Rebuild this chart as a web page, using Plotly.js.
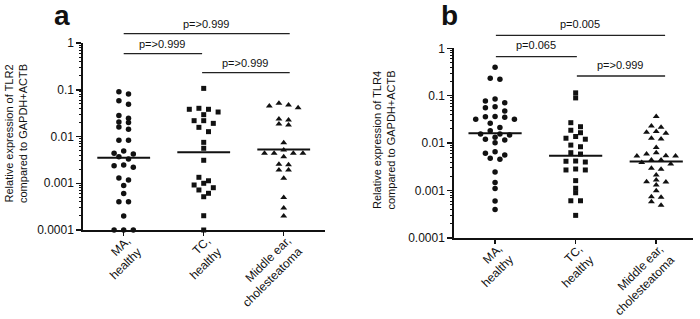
<!DOCTYPE html>
<html><head><meta charset="utf-8">
<script src="https://cdn.plot.ly/plotly-3.0.1.min.js"></script>
<style>html,body{margin:0;padding:0;background:#fff}#chart{width:700px;height:319px}</style>
</head><body><div id="chart"></div>
<script>
// ---------- data ----------
const categories = ["MA,<br>healthy", "TC,<br>healthy", "Middle ear,<br>cholesteatoma"];

const tlr2_MA = [0.091, 0.081, 0.058, 0.049, 0.028, 0.0245, 0.0204, 0.020, 0.016, 0.0143,
  0.0083, 0.0083, 0.0049, 0.0044, 0.0042, 0.0037, 0.0033, 0.00245, 0.00237, 0.0022,
  0.0013, 0.00117, 0.00089, 0.0006, 0.0004, 0.0004, 0.0002, 0.0001, 0.0001, 0.0001];
const tlr2_TC = [0.107, 0.0401, 0.0382, 0.0382, 0.0334, 0.0293, 0.0218, 0.0218, 0.0191, 0.0157,
  0.0127, 0.0075, 0.0056, 0.0031, 0.00134, 0.00113, 0.000998, 0.000918, 0.000803, 0.000718,
  0.00061, 0.000515, 0.000202, 0.0001];
const tlr2_ME = [0.0513, 0.0472, 0.0449, 0.0413, 0.0237, 0.0225, 0.0185, 0.0176, 0.00737, 0.00515,
  0.00437, 0.00437, 0.00437, 0.00437, 0.0037, 0.00254, 0.00249, 0.00192, 0.00192, 0.00128,
  0.000496, 0.000296, 0.000199];

const tlr4_MA = [0.397, 0.233, 0.222, 0.0853, 0.0774, 0.0713, 0.0587, 0.056, 0.0476, 0.0365,
  0.0361, 0.0351, 0.0318, 0.0318, 0.0262, 0.0214, 0.0183, 0.0156, 0.0156, 0.0149,
  0.0133, 0.0121, 0.0117, 0.0102, 0.0066, 0.0061, 0.0056, 0.0048, 0.00457, 0.00247,
  0.00148, 0.00111, 0.0006, 0.0004];
const tlr4_TC = [0.115, 0.090, 0.027, 0.0222, 0.0187, 0.0166, 0.0138, 0.0127, 0.0121, 0.0091,
  0.0084, 0.0063, 0.0059, 0.0042, 0.00415, 0.0040, 0.00285, 0.00272, 0.00272, 0.00162,
  0.00112, 0.0009, 0.00061, 0.00061, 0.0003];
const tlr4_ME = [0.0365, 0.0230, 0.0216, 0.0175, 0.0169, 0.0161, 0.0127, 0.0122, 0.0081, 0.0063,
  0.0059, 0.00544, 0.00536, 0.00536, 0.00442, 0.00442, 0.0039, 0.00364, 0.00295, 0.00281,
  0.00213, 0.00167, 0.00154, 0.00152, 0.00131, 0.000995, 0.00074, 0.00072, 0.00058, 0.00049];

const tlr2_medians = [0.0035, 0.0046, 0.0053];
const tlr4_medians = [0.0161, 0.0054, 0.0041];

// p-values: [MA vs Middle ear, MA vs TC, TC vs Middle ear]
const tlr2_pvalues = ["p=>0.999", "p=>0.999", "p=>0.999"];
const tlr4_pvalues = ["p=0.005", "p=0.065", "p=>0.999"];

const yTickVals = [0.0001, 0.001, 0.01, 0.1, 1];
const yTickText = ["0.0001", "0.001", "0.01", "0.1", "1"];

const titleA = "Relative expression of TLR2<br>compared to GAPDH+ACTB";
const titleB = "Relative expression of TLR4<br>compared to GAPDH+ACTB";

// ---------- layout helpers ----------
const W = 700, H = 319;
const px = v => v / W;
const py = v => 1 - v / H;
const FONT = '"Liberation Sans", Arial, Helvetica, sans-serif';
const INK = '#111111';
const STEP = 0.12;

function slotOrder(n) {
  const s = [];
  for (let k = 0; k < n; k++) s.push(k - (n - 1) / 2);
  return s.sort((a, b) => Math.abs(a) - Math.abs(b) || a - b);
}
function swarm(values, center, pxPerDecade) {
  const idx = values.map((v, i) => i).sort((a, b) => values[b] - values[a]);
  const xs = new Array(values.length);
  const rows = []; let cur = []; let anchor = null;
  idx.forEach(i => {
    const y = -Math.log10(values[i]) * pxPerDecade;
    if (anchor === null || y - anchor > 4.5) { if (cur.length) rows.push(cur); cur = [i]; anchor = y; }
    else cur.push(i);
  });
  if (cur.length) rows.push(cur);
  rows.forEach(r => { const o = slotOrder(r.length); r.forEach((i, k) => xs[i] = center + o[k] * STEP); });
  return xs;
}

const symbols = ['circle', 'square', 'triangle-up'];
const sizes = [5.5, 5, 6];

const domA = {x: [px(83.3), px(325)], y: [py(230), py(43)]};
const domB = {x: [px(454.3), px(693.3)], y: [py(238), py(48.3)]};
const ppdA = (domA.y[1] - domA.y[0]) * H / 4;
const ppdB = (domB.y[1] - domB.y[0]) * H / 4;

const traces = [];
function addPanel(groups, medians, xa, ya, ppd) {
  groups.forEach((vals, g) => {
    traces.push({
      type: 'scatter', mode: 'markers', xaxis: xa, yaxis: ya, cliponaxis: false,
      x: swarm(vals, g, ppd), y: vals,
      marker: {symbol: symbols[g], size: sizes[g], color: '#111', line: {width: 0}},
      hoverinfo: 'skip'
    });
    traces.push({
      type: 'scatter', mode: 'lines', xaxis: xa, yaxis: ya, cliponaxis: false,
      x: [g - 0.33, g + 0.33], y: [medians[g], medians[g]],
      line: {color: '#111', width: 2}, hoverinfo: 'skip'
    });
  });
}
addPanel([tlr2_MA, tlr2_TC, tlr2_ME], tlr2_medians, 'x', 'y', ppdA);
addPanel([tlr4_MA, tlr4_TC, tlr4_ME], tlr4_medians, 'x2', 'y2', ppdB);

const minorVals = [];
for (let e = -4; e < 0; e++) for (let m = 2; m <= 9; m++) minorVals.push(m * Math.pow(10, e));

function xAxis(dom, range, anchor) {
  return {domain: dom, range: range, anchor: anchor, tickmode: 'array', tickvals: [0, 1, 2], ticktext: categories,
    showticklabels: false, ticks: 'outside', ticklen: 4, tickwidth: 1.5, tickcolor: INK,
    showline: true, linewidth: 2, linecolor: '#111', showgrid: false, zeroline: false, fixedrange: true};
}
function yAxis(dom, anchor) {
  return {domain: dom, anchor: anchor, type: 'log', range: [-4, 0], tickmode: 'array',
    tickvals: yTickVals, ticktext: yTickText, ticks: 'outside', ticklen: 5, tickwidth: 1.5, tickcolor: INK,
    showline: true, linewidth: 2, linecolor: '#111', showgrid: false, zeroline: false, fixedrange: true,
    tickfont: {size: 12, color: INK},
    minor: {ticks: 'outside', ticklen: 2.5, tickwidth: 1, tickcolor: INK, tickmode: 'array', tickvals: minorVals, showgrid: false}};
}

const shapes = [], annotations = [];
function brackets(xref, lines, pvals) {
  lines.forEach((L, i) => {
    shapes.push({type: 'line', xref: xref, yref: 'paper', x0: L.x0, x1: L.x1, y0: py(L.y), y1: py(L.y),
      line: {color: '#222', width: 1.3}});
    annotations.push({xref: xref, yref: 'paper', x: (L.x0 + L.x1) / 2, y: py(L.ty), text: pvals[i],
      showarrow: false, xanchor: 'center', yanchor: 'middle', font: {size: 11, color: INK}});
  });
}
brackets('x', [{x0: 0, x1: 2.075, y: 33.7, ty: 23.5}, {x0: 0, x1: 0.98, y: 53.7, ty: 43.5}, {x0: 0.98, x1: 2.075, y: 72.7, ty: 63.5}], tlr2_pvalues);
brackets('x2', [{x0: 0.01, x1: 2.11, y: 35.3, ty: 24}, {x0: 0.01, x1: 1.015, y: 56.7, ty: 44.5}, {x0: 1.015, x1: 2.11, y: 76, ty: 64.5}], tlr4_pvalues);

// rotated category labels, right-aligned with their end at the tick
function catLabels(xref, topPx) {
  categories.forEach((c, g) => {
    annotations.push({xref: xref, yref: 'paper', x: g + 0.3, y: py(topPx), text: c, textangle: -45,
      align: 'right', showarrow: false, xanchor: 'right', yanchor: 'top', font: {size: 12, color: INK}});
  });
}
catLabels('x', 231);
catLabels('x2', 239);

annotations.push({xref: 'paper', yref: 'paper', x: px(16), y: py(134), text: titleA, textangle: -90,
  showarrow: false, xanchor: 'center', yanchor: 'middle', font: {size: 11, color: INK}});
annotations.push({xref: 'paper', yref: 'paper', x: px(383.5), y: py(140), text: titleB, textangle: -90,
  showarrow: false, xanchor: 'center', yanchor: 'middle', font: {size: 11, color: INK}});
annotations.push({xref: 'paper', yref: 'paper', x: px(62), y: py(15.5), text: '<b>a</b>',
  showarrow: false, xanchor: 'center', yanchor: 'middle', font: {size: 28, color: '#111'}});
annotations.push({xref: 'paper', yref: 'paper', x: px(449), y: py(15.5), text: '<b>b</b>',
  showarrow: false, xanchor: 'center', yanchor: 'middle', font: {size: 28, color: '#111'}});

const layout = {
  width: W, height: H, margin: {l: 0, r: 0, t: 0, b: 0},
  paper_bgcolor: '#ffffff', plot_bgcolor: 'rgba(0,0,0,0)', showlegend: false,
  font: {family: FONT, size: 12, color: INK},
  xaxis: xAxis(domA.x, [-0.505, 2.516], 'y'),
  yaxis: yAxis(domA.y, 'x'),
  xaxis2: xAxis(domB.x, [-0.506, 2.46], 'y2'),
  yaxis2: yAxis(domB.y, 'x2'),
  shapes: shapes, annotations: annotations
};
Plotly.newPlot('chart', traces, layout, {staticPlot: true, displayModeBar: false});
</script>
</body></html>
